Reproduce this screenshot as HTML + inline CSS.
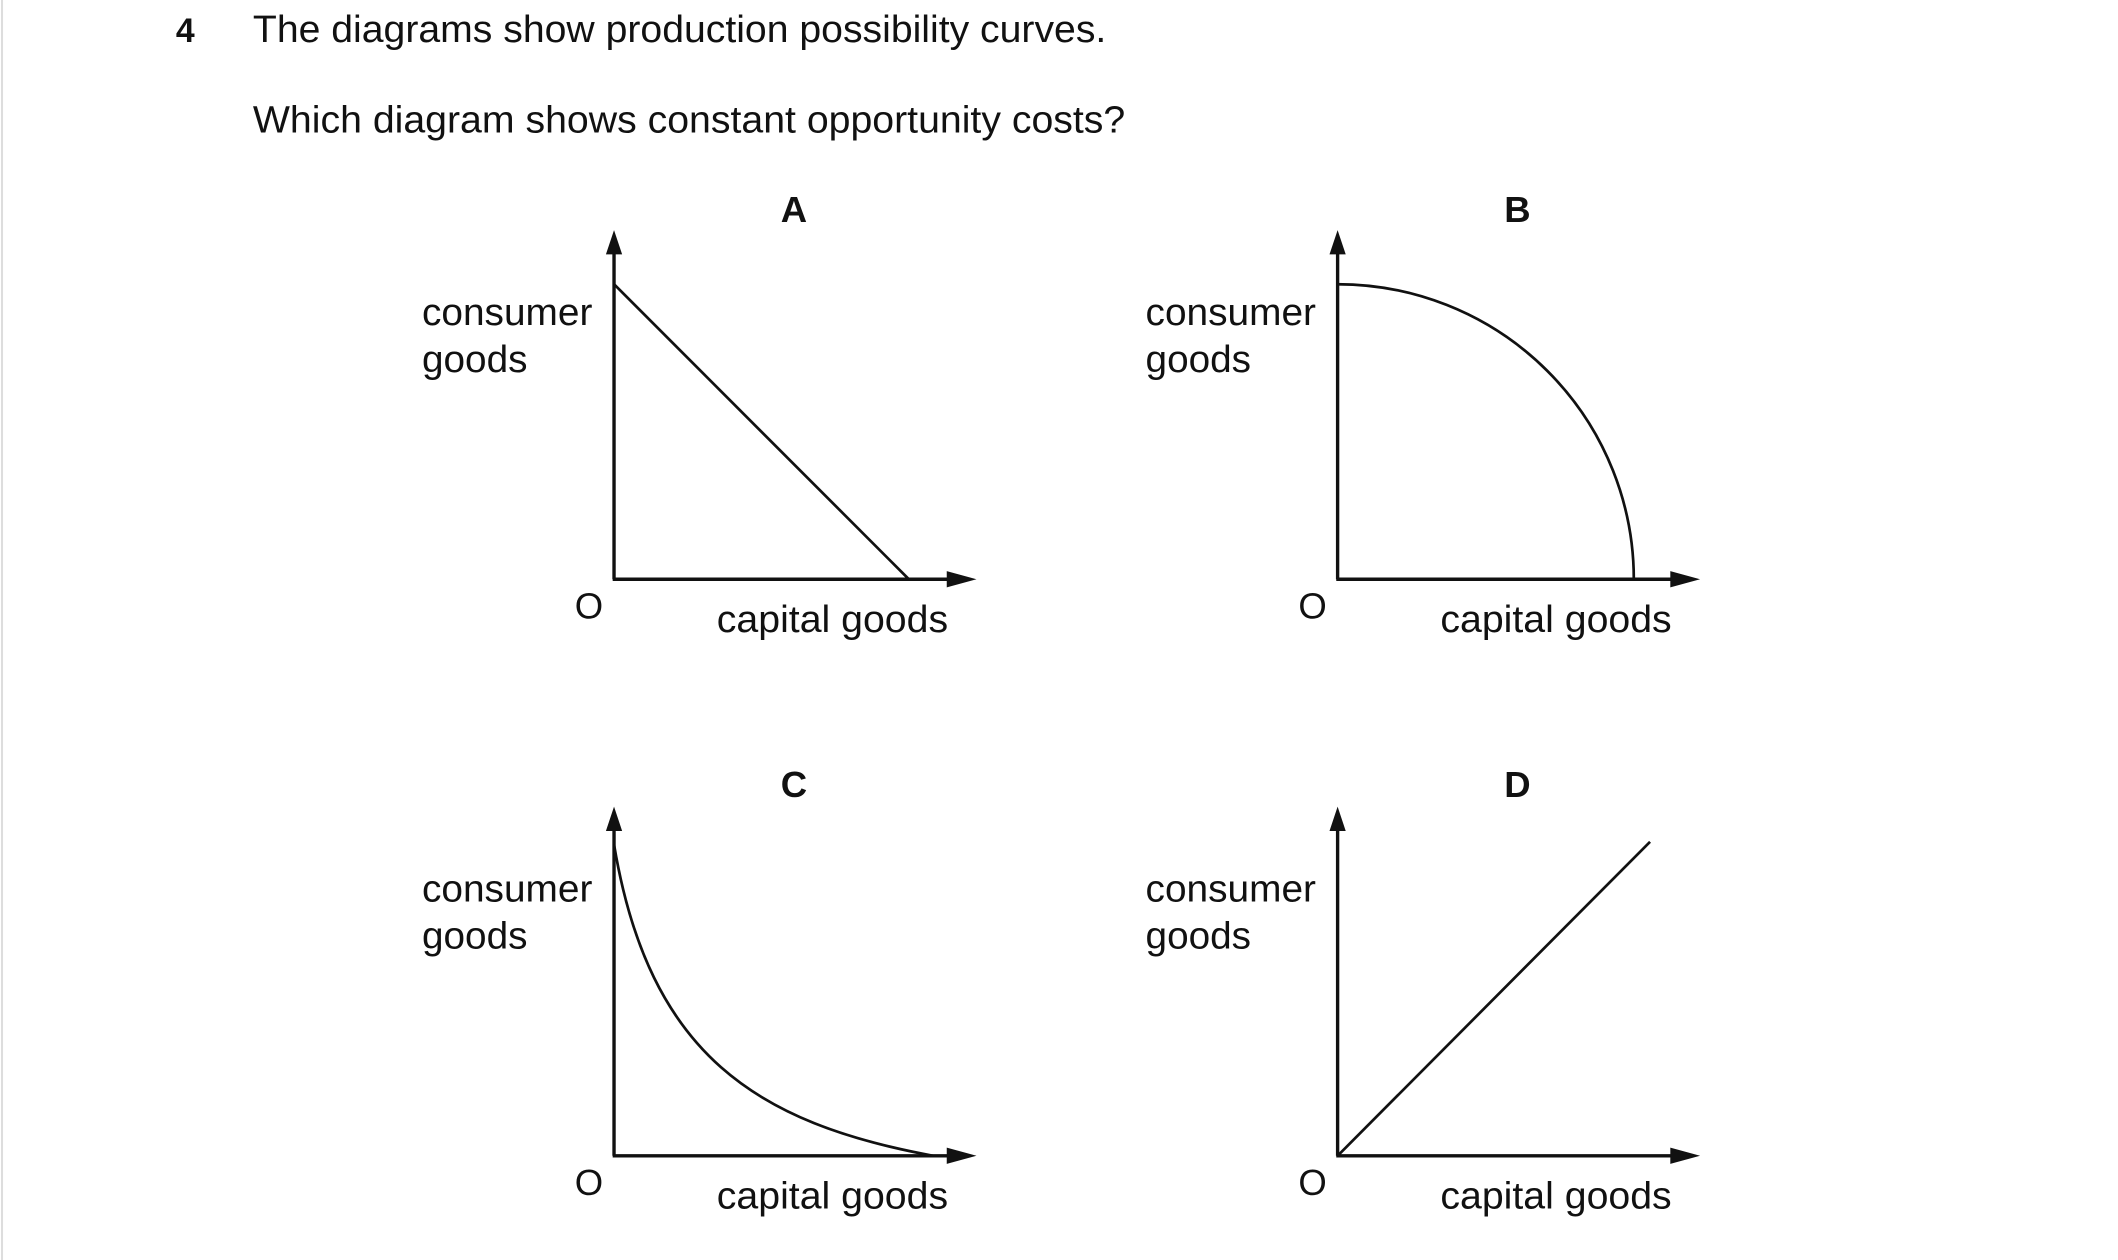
<!DOCTYPE html>
<html><head><meta charset="utf-8"><style>
html,body{margin:0;padding:0;background:#fff;}
svg{display:block;}
text{font-family:"Liberation Sans",Arial,sans-serif;fill:#111;}
</style></head><body>
<svg width="2118" height="1260" viewBox="0 0 1566 931" preserveAspectRatio="none" xmlns="http://www.w3.org/2000/svg">
<line x1="1.5" y1="0" x2="1.5" y2="931" stroke="#ddd" stroke-width="1.5"/>
<text x="130" y="31" font-size="25" font-weight="bold">4</text>
<text x="187" y="31" font-size="28" textLength="631" lengthAdjust="spacingAndGlyphs">The diagrams show production possibility curves.</text>
<text x="187" y="98" font-size="28" textLength="645" lengthAdjust="spacingAndGlyphs">Which diagram shows constant opportunity costs?</text>

<defs>
<g id="axes">
<line x1="454" y1="428" x2="454" y2="186" stroke="#111" stroke-width="2.5"/>
<polygon points="454,170 448,188 460,188" fill="#111"/>
<line x1="453" y1="428" x2="704" y2="428" stroke="#111" stroke-width="2.5"/>
<polygon points="722,428 700,422 700,434" fill="#111"/>
<text x="312" y="240" font-size="28" textLength="126" lengthAdjust="spacingAndGlyphs">consumer</text>
<text x="312" y="275" font-size="28" textLength="78" lengthAdjust="spacingAndGlyphs">goods</text>
<text x="425" y="457" font-size="27">O</text>
<text x="530" y="467" font-size="28" textLength="171" lengthAdjust="spacingAndGlyphs">capital goods</text>
</g>
</defs>

<text x="587" y="164" font-size="27" font-weight="bold" text-anchor="middle">A</text>
<use href="#axes"/>
<line x1="454" y1="210" x2="672" y2="428" stroke="#111" stroke-width="2"/>

<text x="1122" y="164" font-size="27" font-weight="bold" text-anchor="middle">B</text>
<use href="#axes" transform="translate(535,0)"/>
<path d="M989,210 A219,218 0 0 1 1208,428" fill="none" stroke="#111" stroke-width="2"/>

<text x="587" y="589" font-size="27" font-weight="bold" text-anchor="middle">C</text>
<use href="#axes" transform="translate(0,426)"/>
<path d="M454,624 C480,780 560,830 690,854" fill="none" stroke="#111" stroke-width="2"/>

<text x="1122" y="589" font-size="27" font-weight="bold" text-anchor="middle">D</text>
<use href="#axes" transform="translate(535,426)"/>
<line x1="989" y1="854" x2="1220" y2="622" stroke="#111" stroke-width="2"/>
</svg>
</body></html>
